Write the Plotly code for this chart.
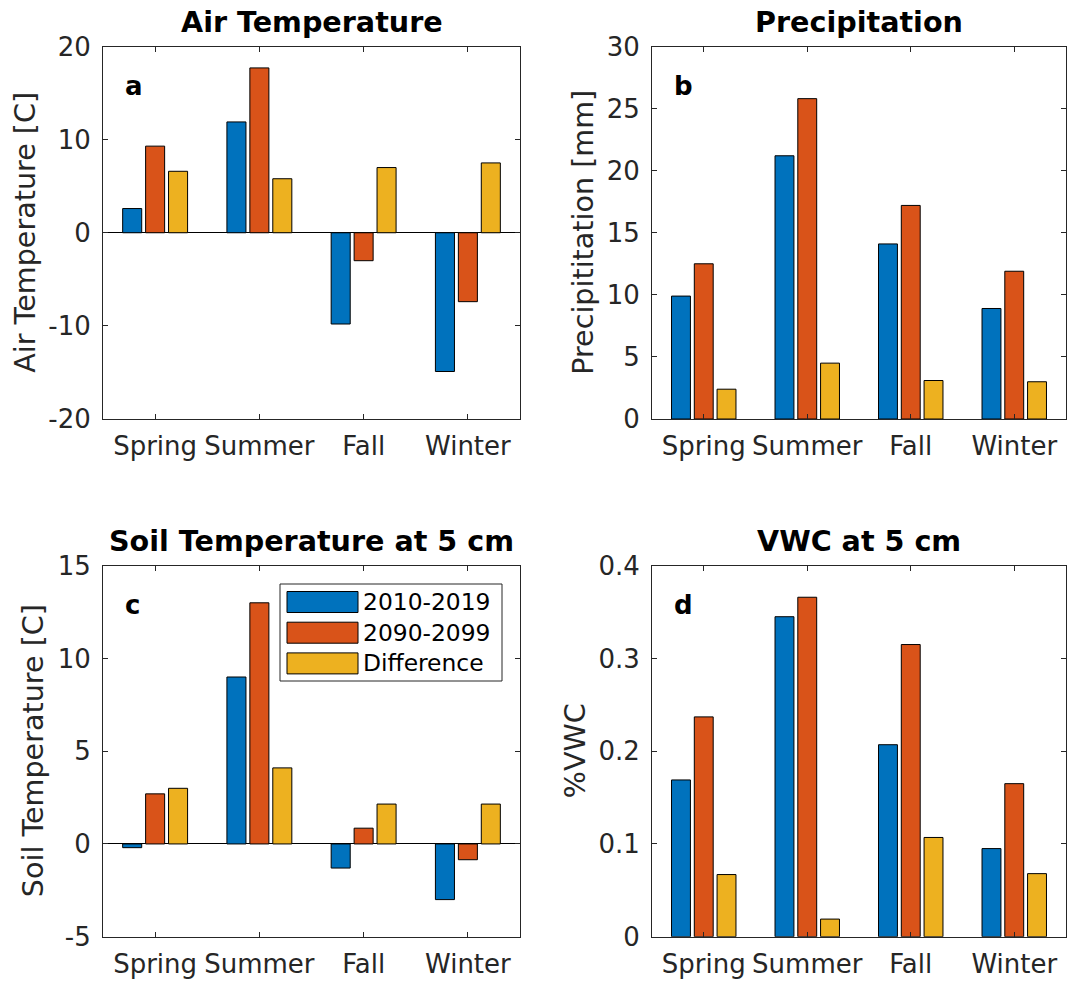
import plotly.graph_objects as go

# Seasonal means for the two decades and their difference
seasons = ["Spring", "Summer", "Fall", "Winter"]
series_names = ["2010-2019", "2090-2099", "Difference"]
series_colors = ["#0072BD", "#D95319", "#EDB120"]

air_2010 = [2.6, 11.9, -9.8, -14.9]
air_2090 = [9.3, 17.7, -3.0, -7.4]
air_diff = [6.6, 5.8, 7.0, 7.5]

precip_2010 = [9.9, 21.2, 14.1, 8.9]
precip_2090 = [12.5, 25.8, 17.2, 11.9]
precip_diff = [2.4, 4.5, 3.1, 3.0]

soil_2010 = [-0.2, 9.0, -1.3, -3.0]
soil_2090 = [2.7, 13.0, 0.85, -0.85]
soil_diff = [3.0, 4.1, 2.15, 2.15]

vwc_2010 = [0.169, 0.345, 0.207, 0.095]
vwc_2090 = [0.237, 0.366, 0.315, 0.165]
vwc_diff = [0.067, 0.019, 0.107, 0.068]

# Axis ticks
air_ticks = [-20, -10, 0, 10, 20]
air_ticktext = ["-20", "-10", "0", "10", "20"]
precip_ticks = [0, 5, 10, 15, 20, 25, 30]
precip_ticktext = ["0", "5", "10", "15", "20", "25", "30"]
soil_ticks = [-5, 0, 5, 10, 15]
soil_ticktext = ["-5", "0", "5", "10", "15"]
vwc_ticks = [0, 0.1, 0.2, 0.3, 0.4]
vwc_ticktext = ["0", "0.1", "0.2", "0.3", "0.4"]

W, H = 1068, 981
FONT = "DejaVu Sans"
AX_COLOR = "#262626"


def px_x(p):
    return p / W


def px_y(p):
    return 1 - p / H


panels = [
    dict(title="Air Temperature", ylabel="Air Temperature [C]", letter="a",
         data=[air_2010, air_2090, air_diff], yrange=[-20, 20],
         ticks=air_ticks, ticktext=air_ticktext, zero=True,
         box=(103, 520, 46.5, 419), ylab_x=25),
    dict(title="Precipitation", ylabel="Precipititation [mm]", letter="b",
         data=[precip_2010, precip_2090, precip_diff], yrange=[0, 30],
         ticks=precip_ticks, ticktext=precip_ticktext, zero=False,
         box=(652, 1066, 46.5, 419), ylab_x=583),
    dict(title="Soil Temperature at 5 cm", ylabel="Soil Temperature [C]", letter="c",
         data=[soil_2010, soil_2090, soil_diff], yrange=[-5, 15],
         ticks=soil_ticks, ticktext=soil_ticktext, zero=True,
         box=(103, 520, 565.7, 936.7), ylab_x=33),
    dict(title="VWC at 5 cm", ylabel="%VWC", letter="d",
         data=[vwc_2010, vwc_2090, vwc_diff], yrange=[0, 0.4],
         ticks=vwc_ticks, ticktext=vwc_ticktext, zero=False,
         box=(652, 1066, 565.7, 936.7), ylab_x=575),
]

fig = go.Figure()
annotations = []
shapes = []

for i, p in enumerate(panels, start=1):
    sfx = "" if i == 1 else str(i)
    xa, ya = "x" + sfx, "y" + sfx
    for vals, name, col in zip(p["data"], series_names, series_colors):
        fig.add_trace(go.Bar(
            x=seasons, y=vals, name=name, xaxis=xa, yaxis=ya,
            marker=dict(color=col, line=dict(color="black", width=1)),
            showlegend=False,
        ))
    x0, x1, y0, y1 = p["box"]
    common = dict(showline=True, linecolor=AX_COLOR, linewidth=1, mirror="ticks",
                  ticks="inside", ticklen=5, tickcolor=AX_COLOR, showgrid=False,
                  automargin=False,
                  tickfont=dict(family=FONT, size=26, color=AX_COLOR))
    fig.update_layout(**{
        "xaxis" + sfx: dict(domain=[px_x(x0), px_x(x1)], anchor=ya,
                            type="category", categoryorder="array",
                            categoryarray=seasons, range=[-0.5, 3.5],
                            ticklabelstandoff=4, **common),
        "yaxis" + sfx: dict(domain=[px_y(y1), px_y(y0)], anchor=xa,
                            range=p["yrange"], tickvals=p["ticks"],
                            ticktext=p["ticktext"], ticklabelstandoff=6,
                            zeroline=p["zero"], zerolinecolor="black",
                            zerolinewidth=1, **common),
    })
    ph = y1 - y0
    pw = x1 - x0
    # Panel title
    annotations.append(dict(
        text="<b>%s</b>" % p["title"], xref=xa + " domain", yref=ya + " domain",
        x=0.5, y=1 + 24.5 / ph, xanchor="center", yanchor="middle",
        showarrow=False, font=dict(family=FONT, size=28.6, color="black")))
    # Y-axis label
    annotations.append(dict(
        text=p["ylabel"], xref=xa + " domain", yref=ya + " domain",
        x=(p["ylab_x"] - x0) / pw, y=0.5, xanchor="center", yanchor="middle",
        textangle=-90, showarrow=False,
        font=dict(family=FONT, size=28.6, color=AX_COLOR)))
    # Panel letter
    annotations.append(dict(
        text="<b>%s</b>" % p["letter"], xref=xa + " domain", yref=ya + " domain",
        x=20 / pw, y=1 - 39.5 / ph, xanchor="left", yanchor="middle",
        showarrow=False, font=dict(family=FONT, size=26, color="black")))

# Legend box drawn inside the soil-temperature panel
lx0, lx1, ly0, ly1 = panels[2]["box"]
lw, lh = lx1 - lx0, ly1 - ly0


def dx(p):
    return (p - lx0) / lw


def dy(p):
    return (ly1 - p) / lh


shapes.append(dict(type="rect", xref="x3 domain", yref="y3 domain",
                   x0=dx(280), x1=dx(502), y0=dy(681), y1=dy(584),
                   line=dict(color=AX_COLOR, width=1), fillcolor="white",
                   layer="above"))
for k, (name, col) in enumerate(zip(series_names, series_colors)):
    cy = 602 + k * 30.7
    shapes.append(dict(type="rect", xref="x3 domain", yref="y3 domain",
                       x0=dx(287), x1=dx(358), y0=dy(cy + 10.5), y1=dy(cy - 10.5),
                       line=dict(color="black", width=1), fillcolor=col,
                       layer="above"))
    annotations.append(dict(
        text=name, xref="x3 domain", yref="y3 domain", x=dx(361), y=dy(cy),
        xanchor="left", yanchor="middle", showarrow=False,
        font=dict(family=FONT, size=23.4, color="black")))

fig.update_layout(
    width=W, height=H, margin=dict(l=0, r=0, t=0, b=0, autoexpand=False),
    paper_bgcolor="white", plot_bgcolor="white",
    barmode="group", bargap=0.34, bargroupgap=0.17,
    annotations=annotations, shapes=shapes,
    font=dict(family=FONT, color=AX_COLOR),
)

fig.write_html("out.html")
